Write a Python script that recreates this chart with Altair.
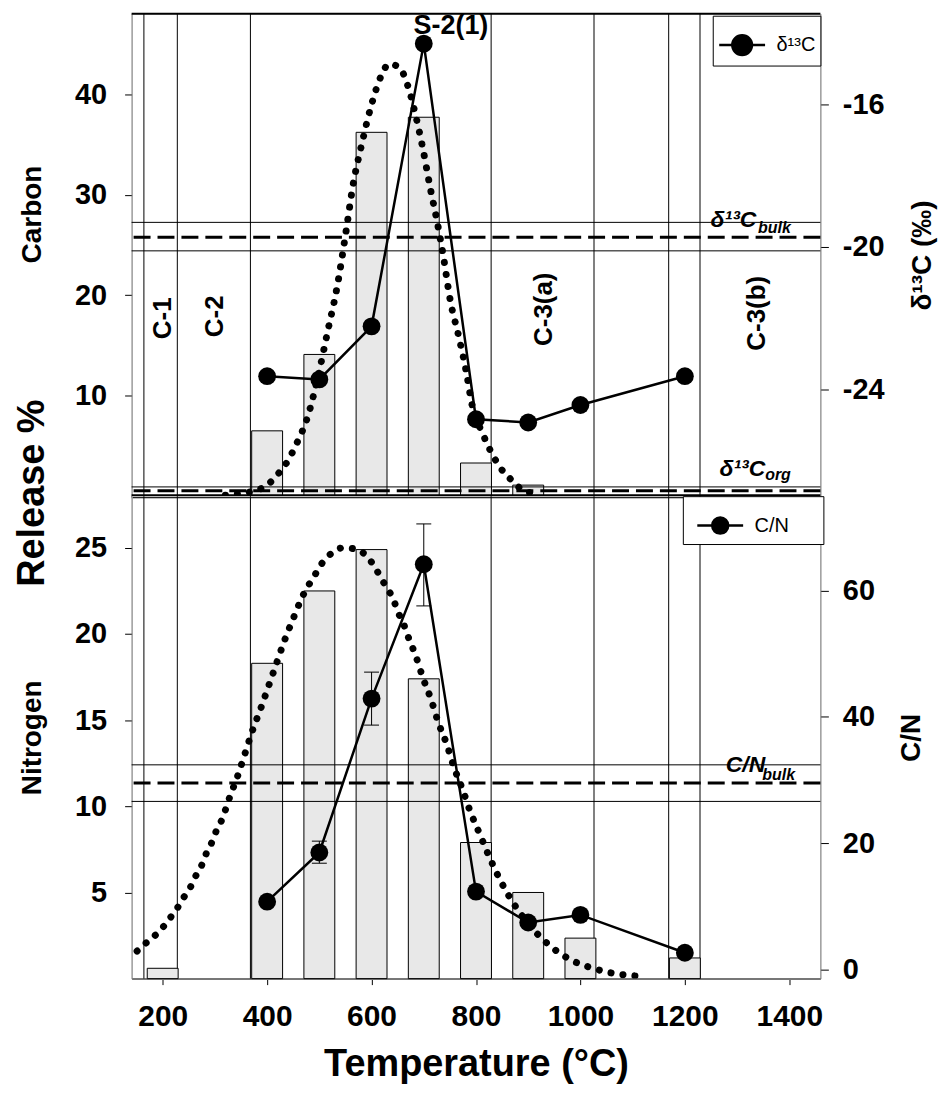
import altair as alt
import pandas as pd

FONT = "Liberation Sans"

# ---------------- data ----------------
temps = [400, 500, 600, 700, 800, 900, 1000, 1200]
d13c_values = [-23.63, -23.72, -22.23, -14.29, -24.84, -24.93, -24.44, -23.63]
cn_values = [10.7, 18.5, 42.9, 64.2, 12.3, 7.4, 8.6, 2.6]

carbon_T = [400, 500, 600, 700, 800, 900]
carbon_release = [6.5, 14.1, 36.2, 37.7, 3.3, 1.1]

nitrogen_T = [200, 400, 500, 600, 700, 800, 900, 1000, 1200]
nitrogen_release = [0.6, 18.3, 22.5, 24.9, 17.4, 7.9, 5.0, 2.35, 1.2]

cn_err_T = [500, 600, 700]
cn_err_low = [16.8, 38.7, 57.6]
cn_err_high = [20.3, 47.1, 70.6]

carbon_fit_T = [320, 380, 400, 419, 437, 458, 477, 497, 516, 535, 551, 564, 582,
                598, 620, 633, 652, 672, 683, 697, 713, 726, 738, 751, 766, 782,
                792, 813, 833, 847, 866, 890, 920]
carbon_fit = [0.1, 0.6, 1.1, 2.1, 3.3, 5.4, 7.8, 11.8, 16.4, 21.1, 26.3, 30.8, 35.2,
              38.6, 42.0, 43.0, 42.7, 40.4, 38.2, 34.9, 30.5, 27.2, 23.7, 19.4, 16.1,
              12.2, 9.2, 6.2, 4.0, 2.8, 1.7, 0.6, 0.2]

nitrogen_fit_T = [151, 173, 194, 211, 226, 240, 253, 264, 275, 284, 294, 303, 313,
                  328, 344, 358, 372, 388, 403, 418, 433, 450, 468, 491, 505, 524,
                  545, 567, 588, 606, 619, 631, 642, 650, 660, 668, 676, 685, 699,
                  714, 728, 744, 758, 774, 789, 807, 825, 845, 869, 900, 938, 981,
                  1022, 1066, 1107, 1119]
nitrogen_fit = [1.6, 2.2, 2.75, 3.4, 4.0, 4.7, 5.3, 6.0, 6.6, 7.3, 7.9, 8.6, 9.2,
                10.5, 11.8, 13.1, 14.4, 15.7, 17.0, 18.3, 19.6, 20.9, 22.2, 23.4,
                24.1, 24.7, 25.0, 24.95, 24.6, 23.9, 23.2, 22.6, 22.0, 21.3, 20.7,
                20.0, 19.4, 18.7, 17.4, 16.2, 14.85, 13.6, 12.25, 11.0, 9.7, 8.4,
                7.1, 5.8, 4.5, 3.2, 2.0, 1.1, 0.62, 0.29, 0.15, 0.1]

region_bounds = [164, 228, 368, 829, 1026, 1169, 1229]

region_names = ["C-1", "C-2", "C-3(a)", "C-3(b)"]
region_label_T = [200, 300, 930, 1339]
region_label_v = [17.7, 17.9, 18.6, 18.2]

peak_label = ["S-2(1)"]
peak_label_T = [752]
peak_label_v = [46.8]

d13c_thin_lines = [-19.31, -20.11, -26.74]
d13c_dashed_lines = [-19.73, -26.85]
cn_thin_lines = [32.4, 26.6]
cn_dashed_lines = [29.5]

d13c_ref_main = ["δ¹³C", "δ¹³C"]
d13c_ref_main_T = [1337, 1354]
d13c_ref_main_w = [-19.43, -26.43]
d13c_ref_sub = ["bulk", "org"]
d13c_ref_sub_T = [1403, 1403]
d13c_ref_sub_w = [-19.62, -26.54]

cn_ref_main = ["C/N"]
cn_ref_main_T = [1354]
cn_ref_main_w = [31.3]
cn_ref_sub = ["bulk"]
cn_ref_sub_T = [1411]
cn_ref_sub_w = [30.0]

# ---------------- layout ----------------
W, H = 691, 484
XDOM = [150, 1450]

x_axis_bottom = alt.Axis(
    values=[200, 400, 600, 800, 1000, 1200, 1400], format="d",
    title="Temperature (°C)", grid=False,
    labelFont=FONT, labelFontSize=30, labelFontWeight="bold", labelColor="black",
    labelPadding=17, tickSize=6, tickColor="black",
    domainColor="#777", domainWidth=2,
    titleFont=FONT, titleFontSize=38, titleFontWeight="bold", titleColor="black",
    titlePadding=14,
)


def xenc(axis):
    return alt.X("T:Q", scale=alt.Scale(domain=XDOM, nice=False, zero=False), axis=axis)


def left_axis(values, title, title_y):
    return alt.Axis(
        orient="left", values=values, title=title, grid=False,
        labelExpr="'' + datum.value",
        labelFont=FONT, labelFontSize=29, labelFontWeight="bold", labelColor="black",
        labelPadding=18, tickSize=7, tickColor="black", domainColor="#777",
        titleFont=FONT, titleFontSize=28, titleFontWeight="bold", titleColor="black",
        titleX=-99, titleY=title_y, titleAngle=270, titleAlign="center",
        titleBaseline="middle",
    )


def right_axis(values, title, title_x):
    return alt.Axis(
        orient="right", values=values, title=title, grid=False,
        labelExpr="'' + datum.value",
        labelFont=FONT, labelFontSize=29, labelFontWeight="bold", labelColor="black",
        labelPadding=14, tickSize=8, tickColor="black", domainColor="#777",
        titleFont=FONT, titleFontSize=28, titleFontWeight="bold", titleColor="black",
        titleX=title_x, titleY=H / 2, titleAngle=270, titleAlign="center",
        titleBaseline="middle",
    )


def legend(lx, ly, r, filler, sym_off):
    path = f"M-1,0L1,0M{r},0A{r},{r},0,1,1,-{r},0A{r},{r},0,1,1,{r},0Z"
    if filler:
        kw = dict(title=filler, titleOrient="right", titleColor="white",
                  titleFontSize=12, titlePadding=0)
    else:
        kw = dict(title=None)
    return alt.Legend(
        orient="none", legendX=lx, legendY=ly,
        symbolType=path, symbolSize=2116, symbolFillColor="black",
        symbolStrokeColor="black", symbolStrokeWidth=2.5, symbolOffset=sym_off,
        labelFont=FONT, labelFontSize=20, labelColor="black", labelOffset=10,
        padding=5, strokeColor="black", fillColor="white", **kw,
    )


def panel(x_axis, left_dom, left_vals, left_title, left_title_y,
          right_dom, right_vals, right_title, right_title_x,
          bar_T, bar_v, fit_T, fit_v, pts_w, series_name, leg,
          thin_w, dashed_w, main_txt, main_T, main_w, sub_txt, sub_T, sub_w,
          extra_left=None, extra_right=None):
    X = xenc(x_axis)
    YL = alt.Y("v:Q", scale=alt.Scale(domain=left_dom, nice=False),
               axis=left_axis(left_vals, left_title, left_title_y))
    YR = alt.Y("w:Q", scale=alt.Scale(domain=right_dom, nice=False, zero=False),
               axis=right_axis(right_vals, right_title, right_title_x))

    vrules = alt.Chart(pd.DataFrame({"T": region_bounds})).mark_rule(
        color="black", strokeWidth=1).encode(x=X)
    bars = alt.Chart(pd.DataFrame({"T": bar_T, "v": bar_v})).mark_bar(
        size=31, fill="#e8e8e8", stroke="black", strokeWidth=1).encode(x=X, y=YL)
    fit = alt.Chart(pd.DataFrame({"T": fit_T, "v": fit_v})).mark_line(
        color="black", strokeWidth=7, strokeDash=[0.1, 12], strokeCap="round",
        interpolate="monotone", clip=True).encode(x=X, y=YL)
    left_layers = [vrules, bars, fit] + (extra_left or [])

    thin = alt.Chart(pd.DataFrame({"w": thin_w})).mark_rule(
        color="black", strokeWidth=1).encode(y=YR)
    dashed = alt.Chart(pd.DataFrame({"w": dashed_w})).mark_rule(
        color="black", strokeWidth=3, strokeDash=[17, 7]).encode(y=YR)
    line_df = pd.DataFrame({"T": temps, "w": pts_w, "s": series_name})
    line = alt.Chart(line_df).mark_line(color="black", strokeWidth=2.5).encode(x=X, y=YR)
    pts = alt.Chart(line_df).mark_point(filled=True, size=320, opacity=1).encode(
        x=X, y=YR,
        color=alt.Color("s:N", scale=alt.Scale(domain=[series_name], range=["black"]),
                        legend=leg))
    main = alt.Chart(pd.DataFrame({"T": main_T, "w": main_w, "t": main_txt})).mark_text(
        font=FONT, fontSize=23, fontWeight="bold", fontStyle="italic", align="right",
        baseline="alphabetic", color="black").encode(x=X, y=YR, text="t:N")
    sub = alt.Chart(pd.DataFrame({"T": sub_T, "w": sub_w, "t": sub_txt})).mark_text(
        font=FONT, fontSize=16, fontWeight="bold", fontStyle="italic", align="right",
        baseline="alphabetic", color="black").encode(x=X, y=YR, text="t:N")
    right_layers = [thin, dashed] + (extra_right or []) + [line, pts, main, sub]

    return alt.layer(alt.layer(*left_layers), alt.layer(*right_layers)).resolve_scale(
        y="independent").properties(width=W, height=H)


# ---------- top panel extras ----------
X_top = xenc(None)
YL_top = alt.Y("v:Q", scale=alt.Scale(domain=[0, 48], nice=False),
               axis=left_axis([10, 20, 30, 40], "Carbon", 201))
top_base_rule = alt.Chart(pd.DataFrame({"v": [0]})).mark_rule(
    color="black", strokeWidth=4).encode(y=YL_top)
top_edge_rule = alt.Chart(pd.DataFrame({"v": [48]})).mark_rule(
    color="black", strokeWidth=2).encode(y=YL_top)
region_text = alt.Chart(pd.DataFrame({"T": region_label_T, "v": region_label_v,
                                      "t": region_names})).mark_text(
    font=FONT, fontSize=26, fontWeight="bold", angle=270, align="center",
    baseline="middle", color="black").encode(x=X_top, y=YL_top, text="t:N")
peak_text = alt.Chart(pd.DataFrame({"T": peak_label_T, "v": peak_label_v,
                                    "t": peak_label})).mark_text(
    font=FONT, fontSize=27, fontWeight="bold", align="center", baseline="middle",
    color="black").encode(x=X_top, y=YL_top, text="t:N")
release_text = alt.Chart(pd.DataFrame({"t": ["Release %"]})).mark_text(
    font=FONT, fontSize=38, fontWeight="bold", angle=270, align="center",
    baseline="middle", color="black").encode(
    x=alt.value(-99), y=alt.value(481), text="t:N")

top = panel(None, [0, 48], [10, 20, 30, 40], "Carbon", 201,
            [-27, -13.45], [-16, -20, -24], "δ¹³C (‰)", 102,
            carbon_T, carbon_release, carbon_fit_T, carbon_fit, d13c_values, "δ¹³C",
            legend(583, 2, 0.43, None, 0),
            d13c_thin_lines, d13c_dashed_lines,
            d13c_ref_main, d13c_ref_main_T, d13c_ref_main_w,
            d13c_ref_sub, d13c_ref_sub_T, d13c_ref_sub_w,
            extra_left=[top_base_rule, top_edge_rule, region_text, peak_text,
                        release_text])

# ---------- bottom panel extras ----------
X_bot = xenc(x_axis_bottom)
YR_bot = alt.Y("w:Q", scale=alt.Scale(domain=[-1.5, 75], nice=False, zero=False),
               axis=right_axis([0, 20, 40, 60], "C/N", 91))
err_df = pd.DataFrame({"T": cn_err_T, "w": cn_err_low, "w2": cn_err_high})
err_rule = alt.Chart(err_df).mark_rule(color="black", strokeWidth=1).encode(
    x=X_bot, y=YR_bot, y2="w2:Q")
cap_lo = alt.Chart(pd.DataFrame({"T": cn_err_T, "w": cn_err_low})).mark_tick(
    orient="horizontal", size=15, thickness=1, color="black", opacity=1).encode(
    x=X_bot, y=YR_bot)
cap_hi = alt.Chart(pd.DataFrame({"T": cn_err_T, "w": cn_err_high})).mark_tick(
    orient="horizontal", size=15, thickness=1, color="black", opacity=1).encode(
    x=X_bot, y=YR_bot)

bottom = panel(x_axis_bottom, [0, 28], [5, 10, 15, 20, 25], "Nitrogen", H / 2,
               [-1.5, 75], [0, 20, 40, 60], "C/N", 91,
               nitrogen_T, nitrogen_release, nitrogen_fit_T, nitrogen_fit, cn_values,
               "C/N", legend(553, 0, 0.35, "MMM", 8),
               cn_thin_lines, cn_dashed_lines,
               cn_ref_main, cn_ref_main_T, cn_ref_main_w,
               cn_ref_sub, cn_ref_sub_T, cn_ref_sub_w,
               extra_right=[err_rule, cap_lo, cap_hi])

chart = alt.vconcat(top, bottom, spacing=0, bounds="flush").resolve_scale(
    color="independent").resolve_legend(color="independent").configure_view(
    stroke="#777", strokeWidth=1).configure(
    font=FONT, padding={"left": 5, "top": 1, "right": 5, "bottom": 5})

chart.save("out.html", embed_options={"renderer": "svg", "actions": False})
